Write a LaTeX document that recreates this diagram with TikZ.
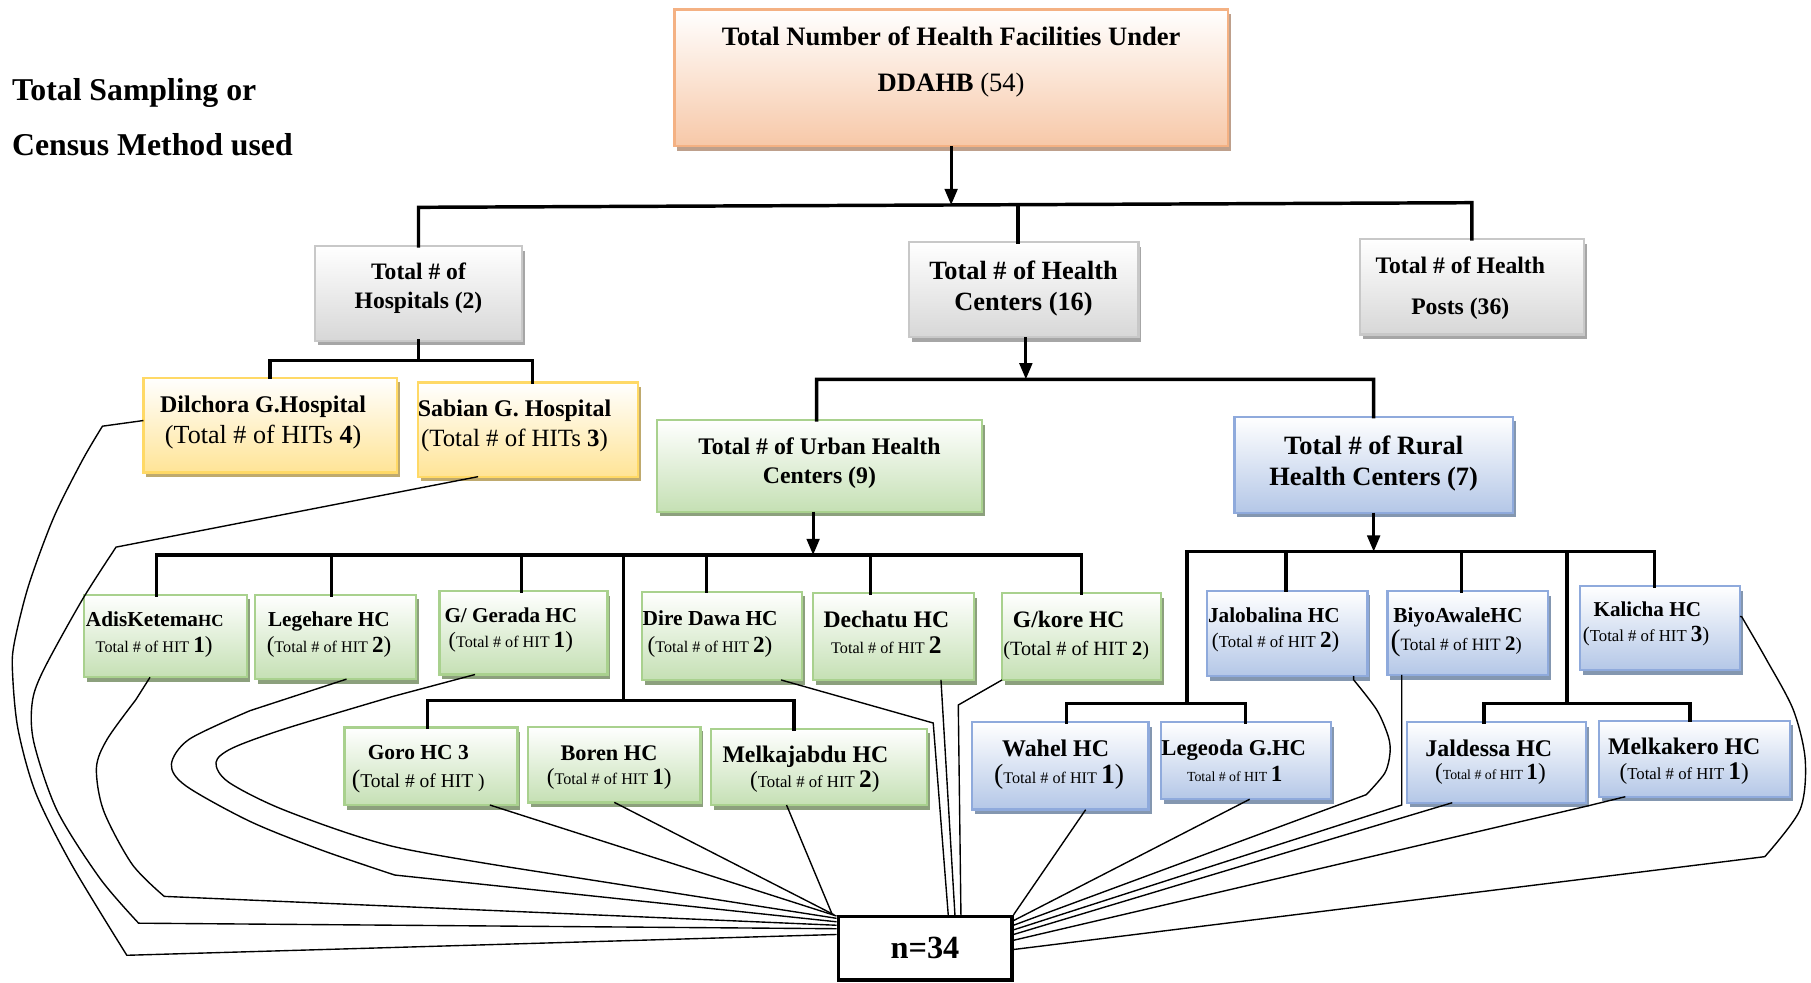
\documentclass[tikz,border=0pt]{standalone}
\usepackage{fontspec}
\setmainfont{Liberation Serif}
\usetikzlibrary{arrows.meta,shadows,calc}
\definecolor{orBd}{RGB}{244,177,131}\definecolor{orBt}{RGB}{247,200,168}\definecolor{orSh}{RGB}{190,160,140}
\definecolor{gyBd}{RGB}{200,200,200}\definecolor{gyBt}{RGB}{215,215,215}\definecolor{gySh}{RGB}{166,166,166}
\definecolor{yeBd}{RGB}{255,217,102}\definecolor{yeBt}{RGB}{255,228,150}\definecolor{yeSh}{RGB}{191,170,110}
\definecolor{grBd}{RGB}{169,209,142}\definecolor{grBt}{RGB}{197,224,180}\definecolor{grSh}{RGB}{140,160,125}
\definecolor{blBd}{RGB}{143,170,220}\definecolor{blBt}{RGB}{180,199,231}\definecolor{blSh}{RGB}{132,151,176}
\newcommand\bx[4]{\begin{minipage}[c][#2pt][t]{#1pt}\parindent=0pt\parskip=0pt\vspace*{#3pt}#4\end{minipage}}
\newcommand\tl[4]{{\leftskip=#1pt plus 1fil\rightskip=-#1pt plus 1fil\parfillskip=0pt\fontsize{#2}{#3}\selectfont#4\par}}
\newcommand\sz[2]{{\fontsize{#1}{#1}\selectfont#2}}
\tikzset{
  boxbase/.style={draw, line width=2pt, inner sep=0pt, outer sep=0pt},
  orbox/.style={boxbase, draw=orBd, top color=white, bottom color=orBt, drop shadow={shadow xshift=2.5pt, shadow yshift=-4pt, opacity=1, fill=orSh}},
  graybox/.style={boxbase, draw=gyBd, top color=white, bottom color=gyBt, drop shadow={shadow xshift=2.5pt, shadow yshift=-4pt, opacity=1, fill=gySh}},
  yelbox/.style={boxbase, draw=yeBd, top color=white, bottom color=yeBt, drop shadow={shadow xshift=2.5pt, shadow yshift=-4pt, opacity=1, fill=yeSh}},
  greenbox/.style={boxbase, draw=grBd, top color=white, bottom color=grBt, drop shadow={shadow xshift=2.5pt, shadow yshift=-4pt, opacity=1, fill=grSh}},
  bluebox/.style={boxbase, draw=blBd, top color=white, bottom color=blBt, drop shadow={shadow xshift=2.5pt, shadow yshift=-4pt, opacity=1, fill=blSh}},
  treeline/.style={line width=3pt, line cap=rect},
  arrline/.style={line width=2.5pt, -{Triangle[length=14pt,width=11pt]}},
  connline/.style={line width=1.2pt, line join=miter}
}
\begin{document}
\begin{tikzpicture}[x=1pt,y=-1pt]
\useasboundingbox (0,0) rectangle (1568,851);

% title
\node[anchor=north west, inner sep=0pt, align=left, font=\fontsize{27.5}{47.6}\selectfont\bfseries] (title) at (10.3,68.1) {Total Sampling or\\Census Method used};

% boxes
\node[orbox] (top) at (823.5,67.25) {\bx{479}{118.3}{15.4}{\tl{0}{23}{27}{\bfseries Total Number of Health Facilities Under}\tl{0}{23}{39.8}{\bfseries DDAHB \mdseries(54)}}};
\node[graybox] (hosp) at (362.35,254) {\bx{179.5}{82}{14.9}{\tl{0}{20.4}{24}{\bfseries Total \# of}\tl{0}{20.4}{24.5}{\bfseries Hospitals (2)}}};
\node[graybox] (hc) at (886.2,250.9) {\bx{198.8}{82.2}{15.8}{\tl{0}{22.8}{27}{\bfseries Total \# of Health}\tl{0}{22.8}{27.4}{\bfseries Centers (16)}}};
\node[graybox] (posts) at (1274.3,248.2) {\bx{194}{82.6}{15.1}{\tl{-10}{20.5}{24}{\bfseries Total \# of Health}\tl{-10}{20.5}{36.1}{\bfseries Posts (36)}}};
\node[yelbox] (dil) at (233.85,368.1) {\bx{219.3}{82.2}{16.1}{\tl{-6}{20.7}{24}{\bfseries Dilchora G.Hospital}\tl{-6}{22.6}{26.5}{(Total \# of HITs \textbf{4})}}};
\node[yelbox] (sab) at (456.95,372) {\bx{190.5}{81.4}{14.7}{\tl{-11.5}{20.7}{24}{\bfseries Sabian G. Hospital}\tl{-11.5}{21.5}{26.3}{(Total \# of HITs \textbf{3})}}};
\node[greenbox] (urban) at (709.5,403.3) {\bx{281.6}{79.4}{15.7}{\tl{0}{20.6}{24}{\bfseries Total \# of Urban Health}\tl{0}{20.6}{24.6}{\bfseries Centers (9)}}};
\node[bluebox] (rural) at (1189.35,402.35) {\bx{241.1}{83.1}{16.3}{\tl{0}{22.9}{27}{\bfseries Total \# of Rural}\tl{0}{22.9}{27.4}{\bfseries Health Centers (7)}}};

\node[greenbox] (adis) at (143.5,550.7) {\bx{141}{71.4}{14.6}{\tl{-9.5}{18.4}{22}{\bfseries AdisKetema\sz{14.7}{HC}}\tl{-10}{14}{22.2}{Total \# of HIT \sz{20}{\textbf{1})}}}};
\node[greenbox] (leg) at (290.4,551.5) {\bx{139.2}{73}{14.6}{\tl{-5.6}{18.4}{22}{\bfseries Legehare HC}\tl{-5.5}{14}{22.2}{\sz{20}{(}Total \# of HIT \sz{20}{\textbf{2})}}}};
\node[greenbox] (ger) at (453.3,547.85) {\bx{145.4}{72.3}{14.2}{\tl{-11}{18.3}{22}{\bfseries G/ Gerada HC}\tl{-11}{14}{21.6}{\sz{19}{(}Total \# of HIT \sz{20}{\textbf{1})}}}};
\node[greenbox] (dd) at (625.2,550.5) {\bx{138.4}{76.4}{16.5}{\tl{-10.3}{18.5}{22}{\bfseries Dire Dawa HC}\tl{-10.5}{14}{23}{\sz{20}{(}Total \# of HIT \sz{20}{\textbf{2})}}}};
\node[greenbox] (dech) at (773.4,551.15) {\bx{139.2}{75.1}{15.8}{\tl{-6}{20.5}{24}{\bfseries Dechatu HC}\tl{-6}{14}{22.3}{Total \# of HIT \sz{22}{\textbf{2}}}}};
\node[greenbox] (gk) at (936.3,551.15) {\bx{137.4}{75.1}{15.9}{\tl{-11}{20.4}{24}{\bfseries G/kore HC}\tl{-4.5}{17.5}{23.5}{(Total \# of HIT \textbf{2})}}};
\node[greenbox] (goro) at (373.15,663.5) {\bx{149.7}{67}{15.5}{\tl{-11}{18.6}{22}{\bfseries Goro HC 3}\tl{-11}{16.9}{24}{\sz{22}{(}Total \# of HIT )}}};
\node[greenbox] (boren) at (531.85,661.95) {\bx{149.1}{65.5}{16.9}{\tl{-4.6}{19.3}{22}{\bfseries Boren HC}\tl{-4.4}{14}{20.6}{\sz{20}{(}Total \# of HIT \sz{20}{\textbf{1})}}}};
\node[greenbox] (melk) at (709,664) {\bx{187.2}{66}{15.3}{\tl{-11.6}{20.6}{24}{\bfseries Melkajabdu HC}\tl{-3.5}{14.5}{21.1}{\sz{20}{(}Total \# of HIT \sz{22}{\textbf{2}}\sz{20}{)}}}};

\node[bluebox] (jalo) at (1114.45,548.35) {\bx{138.9}{73.9}{14.5}{\tl{-11.5}{18.4}{22}{\bfseries Jalobalina HC}\tl{-10}{14.5}{21.8}{\sz{18}{(}Total \# of HIT \sz{20}{\textbf{2})}}}};
\node[bluebox] (biyo) at (1270.7,548.05) {\bx{138.6}{72.7}{14.1}{\tl{-8.4}{18.5}{22}{\bfseries BiyoAwaleHC}\tl{-10}{15}{24.7}{\sz{26}{(}Total \# of HIT \sz{18}{\textbf{2}}\sz{16}{)}}}};
\node[bluebox] (kal) at (1437.25,543.7) {\bx{138.5}{72.6}{14.1}{\tl{-11}{18.3}{22}{\bfseries Kalicha HC}\tl{-12}{14.5}{21.2}{\sz{18}{(}Total \# of HIT \sz{20}{\textbf{3}}\sz{18}{)}}}};
\node[bluebox] (wahel) at (918,663.2) {\bx{153}{75.6}{15.1}{\tl{-4}{20.7}{24}{\bfseries Wahel HC}\tl{-1}{14}{23.7}{\sz{24}{(}Total \# of HIT \sz{24}{\textbf{1})}}}};
\node[bluebox] (lgd) at (1079,658.7) {\bx{147.2}{66.6}{15.5}{\tl{-10.8}{19.6}{23}{\bfseries Legeoda G.HC}\tl{-10}{12}{21.8}{Total \# of HIT \sz{20}{\textbf{1}}}}};
\node[bluebox] (jald) at (1295.4,660.2) {\bx{155}{69.6}{15.1}{\tl{-6.4}{20.7}{24}{\bfseries Jaldessa HC}\tl{-5}{12}{20.3}{\sz{20}{(}Total \# of HIT \sz{20}{\textbf{1})}}}};
\node[bluebox] (melka) at (1467.25,656.9) {\bx{165.1}{65.8}{15.3}{\tl{-9}{20.6}{24}{\bfseries Melkakero HC}\tl{-9}{14.5}{20.9}{\sz{20}{(}Total \# of HIT \sz{22}{\textbf{1}}\sz{20}{)}}}};

\node[draw, line width=3pt, minimum width=150.2pt, minimum height=54.9pt, inner sep=0pt, font=\fontsize{28}{30}\selectfont\bfseries] (n34) at (800.9,821.05) {n=34};

% tree connectors
\draw[arrline] (top.south) -- ($(top.south)+(0,51.1)$);
\draw[treeline] (hosp.north) -- (hosp.north |- 0,179.5) -- (posts.north |- 0,175.5) -- (posts.north);
\draw[treeline] ($(hc.north)+(-4.8,0)$) -- ($(hc.north)+(-4.8,-32.5)$);
\draw[treeline] (hosp.south) -- (hosp.south |- 0,312.3);
\draw[treeline] (dil.north) -- (dil.north |- 0,312.3) -- ($(sab.north)+(4,-19)$) -- ($(sab.north)+(4,0)$);
\draw[arrline] ($(hc.south)+(2,0)$) -- ($(hc.south)+(2,36.4)$);
\draw[treeline] ($(urban.north)+(-2.5,0)$) -- ($(urban.north)+(-2.5,-35.2)$) -- (rural.north |- 0,328.4) -- (rural.north);

\draw[arrline] ($(urban.south)+(-5.5,0)$) -- ($(urban.south)+(-5.5,37.5)$);
\draw[treeline] ($(adis.north)+(-8.2,0)$) |- (gk.north |- 0,480.5) -- (gk.north);
\draw[treeline] ($(leg.north)+(-3.3,0)$) -- ++(0,-34.5);
\draw[treeline] ($(ger.north)+(-1.6,0)$) -- ++(0,-31.2);
\draw[treeline] ($(dd.north)+(-13.4,0)$) -- ++(0,-31.8);
\draw[treeline] ($(dech.north)+(-19.7,0)$) -- ++(0,-33.1);
\coordinate (uj) at (540,480.5);
\coordinate (uj2) at (540,606.6);
\draw[treeline] (uj) -- (uj2);
\draw[treeline] ($(goro.north)+(-3.2,0)$) |- ($(melk.north)+(-21.6,-24.4)$) -- ($(melk.north)+(-21.6,0)$);

\draw[arrline] (rural.south) -- ($(rural.south)+(0,33.7)$);
\coordinate (rj) at (1027.7,477.6);
\coordinate (rj2) at (1356.6,477.6);
\draw[treeline] (rj) -| ($(kal.north)+(-4.8,0)$);
\draw[treeline] ($(jalo.north)+(-1,0)$) -- ++(0,-33.8);
\draw[treeline] ($(biyo.north)+(-5.1,0)$) -- ++(0,-34.1);
\draw[treeline] (rj) -- ++(0,131.4);
\draw[treeline] ($(wahel.north)+(5.3,0)$) |- ($(lgd.north)+(-0.7,-16.4)$) -- ($(lgd.north)+(-0.7,0)$);
\draw[treeline] (rj2) -- ++(0,131.4);
\draw[treeline] ($(jald.north)+(-10.4,0)$) |- ($(melka.north)+(-3.9,-15)$) -- ($(melka.north)+(-3.9,0)$);

% thin connectors to n=34 (left)
\draw[connline] ($(dil.west)+(0,-4)$) -- plot[smooth] coordinates {(88.7,369) (71.1,398.9) (46.4,448.3) (24.7,507.1) (12.4,556.6) (10.8,581.3) (15.5,630.8) (30.9,686.4) (61.8,748.2) (109.8,827.1)} -- ($(n34.north west)+(0,17)$);
\draw[connline] ($(sab.south)+(-43,0)$) -- plot[smooth] coordinates {(100.5,473.7) (71.1,519.5) (37.1,581.3) (27.8,609) (29.4,643.2) (49.5,701.9) (86.6,760.6) (120,799.3)} -- ($(n34.north west)+(0,12)$);
\draw[connline] ($(adis.south)+(-13.6,0)$) -- plot[smooth] coordinates {(117.5,606) (92.8,640) (83.5,664.8) (89.7,701.9) (114.4,748.3) (142.2,776.1)} -- ($(n34.north west)+(0,9)$);
\draw[connline] ($(leg.south)+(9.6,0)$) -- plot[smooth] coordinates {(216.5,615.3) (163.9,640) (148.4,661.7) (160.8,680.3) (216.5,711.2) (278.3,736) (341.7,757.6)} -- ($(n34.north west)+(0,6)$);
\draw[connline] ($(ger.south)+(-42,0)$) -- plot[smooth] coordinates {(340.1,603) (247.4,630.8) (201,647.8) (187,660.2) (197.9,677.2) (247.4,701.9) (340.1,732.8) (468.5,755.1)} -- ($(n34.north west)+(0,3)$);
\draw[connline] ($(goro.south)+(51,0)$) -- ($(n34.north west)+(0,1)$);
\draw[connline] (boren.south) -- ($(n34.north west)+(-2,0)$);
\draw[connline] ($(melk.south)+(-28,0)$) -- ($(n34.north west)+(-4,-1)$);
\draw[connline] ($(dd.south)+(51,0)$) -- (808,626) -- ($(n34.north west)+(96.7,0)$);
\draw[connline] ($(dech.south)+(41.3,0)$) -- ($(n34.north west)+(102.5,0)$);
\draw[connline] (gk.south west) -- (829.7,610.4) -- ($(n34.north west)+(107.7,0)$);

% right
\draw[connline] ($(wahel.south)+(22,0)$) -- (n34.north east);
\draw[connline] ($(lgd.south)+(3,0)$) -- ($(n34.north east)+(0,5)$);
\draw[connline] ($(jalo.south)+(57.5,0)$) -- plot[smooth] coordinates {(1172,588.6) (1192,614.6) (1202,637.7) (1203.5,652) (1199,669.3) (1183,688)} -- ($(n34.north east)+(0,9)$);
\draw[connline] ($(biyo.south west)+(12.2,0)$) -- (1213.6,697) -- ($(n34.north east)+(0,13)$);
\draw[connline] ($(jald.south)+(-38,0)$) -- ($(n34.north east)+(0,17)$);
\draw[connline] ($(melka.south)+(-60,0)$) -- (1373.7,698) -- ($(n34.north east)+(0,22)$);
\draw[connline] ($(kal.east)+(0,-10)$) -- plot[smooth] coordinates {(1508,534) (1529.6,571.4) (1552.7,614.7) (1563,658) (1558.4,701.3) (1528,741.7)} -- ($(n34.north east)+(0,30)$);
\end{tikzpicture}
\end{document}
